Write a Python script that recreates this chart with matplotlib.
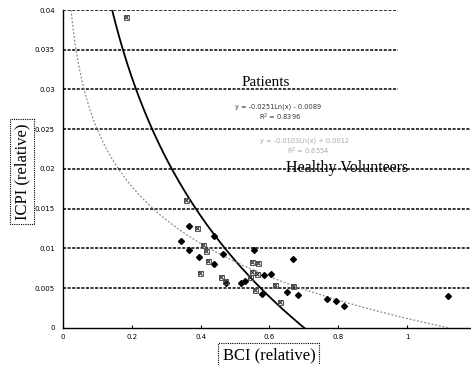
import numpy as np
import matplotlib
matplotlib.use('Agg')
import matplotlib.pyplot as plt

# data
patients_bci = [0.367, 0.343, 0.367, 0.4375, 0.395, 0.440, 0.464, 0.556, 0.667, 0.474,
                0.516, 0.528, 0.585, 0.605, 0.578, 0.650, 0.684, 0.767, 0.793, 0.818, 1.120]
patients_icpi = [0.01283, 0.01088, 0.00981, 0.01151, 0.00897, 0.00803, 0.00931, 0.00981,
                 0.00864, 0.00566, 0.00572, 0.00597, 0.00667, 0.00675, 0.00431, 0.00453,
                 0.00409, 0.00365, 0.00343, 0.00277, 0.00406]

healthy_bci = [0.182, 0.358, 0.389, 0.420, 0.458, 0.471, 0.549, 0.568, 0.544, 0.549,
               0.563, 0.616, 0.558, 0.632, 0.669, 0.407, 0.416, 0.398]
healthy_icpi = [0.03916, 0.0161, 0.01254, 0.00839, 0.00642, 0.00585, 0.00834, 0.00814,
                0.00638, 0.00708, 0.00675, 0.00535, 0.00478, 0.00321, 0.00528, 0.01044,
                0.00969, 0.00696]

# trend lines y = a*ln(x) + b, as printed on the chart
patients_fit = (-0.0251, -0.0089)
healthy_fit = (-0.0103, 0.0012)

y_ticks = [0, 0.005, 0.01, 0.015, 0.02, 0.025, 0.03, 0.035, 0.04]
y_labels = ['0', '0.005', '0.01', '0.015', '0.02', '0.025', '0.03', '0.035', '0.04']
x_ticks = [0, 0.2, 0.4, 0.6, 0.8, 1.0]
x_labels = ['0', '0.2', '0.4', '0.6', '0.8', '1']

fig = plt.figure(figsize=(4.71, 3.65), dpi=100)
ax = fig.add_axes([0.134, 0.1014, 0.866, 0.8712])
ax.set_xlim(0, 1.186)
ax.set_ylim(0, 0.04)

# horizontal grid, the upper three lines stop short of the right edge
for yv in y_ticks[1:]:
    xmax = 0.974 if yv >= 0.03 else 1.186
    ax.hlines(yv, 0, xmax, colors='black', linestyles=(0, (2, 1)), linewidth=1.1, zorder=1)

# trend curves
a, b = patients_fit
x_p = np.linspace(np.exp((0.04 - b) / a), np.exp(-b / a), 200)
ax.plot(x_p, a * np.log(x_p) + b, color='black', linewidth=1.3, zorder=3)

a, b = healthy_fit
x_h = np.linspace(np.exp((0.04 - b) / a), np.exp(-b / a), 300)
ax.plot(x_h, a * np.log(x_h) + b, color='#8a8a8a', linewidth=0.9,
        linestyle=(0, (1.5, 1.5)), zorder=3)

# points
ax.plot(patients_bci, patients_icpi, linestyle='none', marker='D', markersize=3,
        color='black', zorder=4)
# healthy: small crossed squares
ax.plot(healthy_bci, healthy_icpi, linestyle='none', marker='s', markersize=3.6,
        markerfacecolor='none', markeredgecolor='#555555', markeredgewidth=0.7, zorder=4)
ax.plot(healthy_bci, healthy_icpi, linestyle='none', marker='x', markersize=3.2,
        markeredgecolor='#333333', markeredgewidth=0.8, zorder=4)

# axes look
for side in ['top', 'right']:
    ax.spines[side].set_visible(False)
for side in ['left', 'bottom']:
    ax.spines[side].set_linestyle((0, (1, 1)))
    ax.spines[side].set_linewidth(1.0)
ax.set_yticks(y_ticks)
ax.set_yticklabels(y_labels)
ax.set_xticks(x_ticks)
ax.set_xticklabels(x_labels)
ax.tick_params(axis='y', length=0, labelsize=5, pad=6)
ax.tick_params(axis='x', length=2, direction='in', labelsize=5, pad=4)

# labels on the plot
serif = 'Liberation Serif'
ax.text(0.590, 0.0309, 'Patients', fontsize=11, family=serif, ha='center', va='center')
ax.text(0.826, 0.0201, 'Healthy Volunteers', fontsize=11.5, family=serif,
        ha='center', va='center', zorder=5)
ax.text(0.625, 0.0278, 'y = -0.0251Ln(x) - 0.0089', fontsize=4.8, color='#333333',
        ha='center', va='center')
ax.text(0.631, 0.02654, 'R$^2$ = 0.8396', fontsize=4.8, color='#333333',
        ha='center', va='center')
ax.text(0.703, 0.02352, 'y = -0.0103Ln(x) + 0.0012', fontsize=4.8, color='#aaaaaa',
        ha='center', va='center')
ax.text(0.712, 0.02226, 'R$^2$ = 0.6554', fontsize=4.8, color='#aaaaaa',
        ha='center', va='center')

# boxed axis titles
box = dict(boxstyle='square,pad=0.25', facecolor='white', edgecolor='black',
           linestyle=(0, (1, 1)), linewidth=0.8)
fig.text(0.047, 0.529, 'ICPI (relative)', rotation=90, fontsize=12, family=serif,
         ha='center', va='center', bbox=box)
fig.text(0.571, 0.027, 'BCI (relative)', fontsize=12, family=serif,
         ha='center', va='center', bbox=box)

fig.savefig('out.png', dpi=100)
